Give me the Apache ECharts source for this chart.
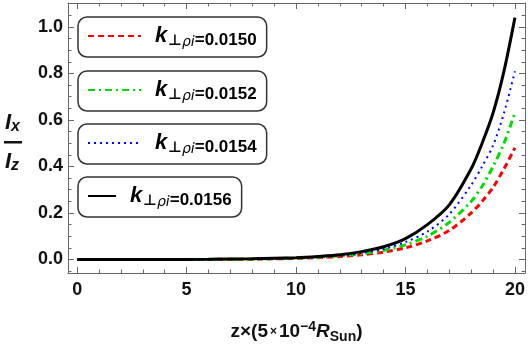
<!DOCTYPE html>
<html>
<head>
<meta charset="utf-8">
<script src="https://cdn.jsdelivr.net/npm/echarts@6/dist/echarts.min.js"></script>
<style>
  html, body { margin: 0; padding: 0; background: #fff; }
  #chart { width: 528px; height: 349px; }
</style>
</head>
<body>
<div id="chart"></div>
<script>
// z positions (units of 5e-4 R_Sun)
const zValues = [0, 2, 4, 6, 8, 10, 11, 12, 13, 14, 15, 16, 17, 18, 18.5, 19, 19.5, 20];
// Ix/Iz, one array per k_perp rho_i
const ratio0150 = [0, 0.0001, 0.0002, 0.0005, 0.0015, 0.005, 0.008, 0.013, 0.02, 0.032, 0.05, 0.08, 0.125, 0.20, 0.25, 0.31, 0.39, 0.48];
const ratio0152 = [0, 0.0001, 0.0003, 0.0006, 0.002, 0.006, 0.010, 0.016, 0.025, 0.04, 0.063, 0.10, 0.16, 0.25, 0.315, 0.40, 0.50, 0.63];
const ratio0154 = [0, 0.0001, 0.0003, 0.0007, 0.0025, 0.007, 0.011, 0.017, 0.028, 0.045, 0.075, 0.12, 0.195, 0.32, 0.40, 0.49, 0.63, 0.81];
const ratio0156 = [0, 0.0001, 0.0003, 0.0009, 0.003, 0.008, 0.013, 0.02, 0.034, 0.055, 0.09, 0.15, 0.235, 0.39, 0.50, 0.63, 0.81, 1.04];
const kLabels = ['0.0150', '0.0152', '0.0154', '0.0156'];
const xTickLabels = [0, 5, 10, 15, 20];
const yTickLabels = [0, 0.2, 0.4, 0.6, 0.8, 1.0];

const chart = echarts.init(document.getElementById('chart'));

const pairs = (ys) => zValues.map((z, i) => [z, ys[i]]);
const frameColor = '#666';
const sans = 'Liberation Sans, Arial, sans-serif';
const labelFont = { color: '#111', fontSize: 18, fontWeight: 'bold', fontFamily: sans };

// one boxed legend per curve, like the Mathematica legend
const legendRich = {
  k: { fontSize: 22, fontWeight: 'bold', fontStyle: 'italic', color: '#000', lineHeight: 26, padding: [0, 1, 0, 9], fontFamily: sans },
  p: { fontSize: 15, fontWeight: 'bold', color: '#000', verticalAlign: 'bottom', lineHeight: 17, fontFamily: 'DejaVu Sans, sans-serif' },
  s: { fontSize: 14, fontStyle: 'italic', color: '#000', verticalAlign: 'bottom', lineHeight: 16, fontFamily: 'DejaVu Sans, sans-serif' },
  v: { fontSize: 17, fontWeight: 'bold', color: '#000', verticalAlign: 'bottom', lineHeight: 21, fontFamily: sans }
};
const legendTops = [17, 71, 124, 177];
const legends = kLabels.map((k, i) => ({
  data: [k],
  left: 78,
  top: legendTops[i],
  itemWidth: i === 3 ? 28 : 53,
  itemHeight: 14,
  itemStyle: { opacity: 0 },
  padding: [8, 10, 8, 9],
  borderColor: '#333',
  borderWidth: 1.5,
  borderRadius: 9,
  selectedMode: false,
  formatter: (name) => '{k|k}{p|\u22a5}{s|\u03c1i}{v|=' + name + '}',
  textStyle: { rich: legendRich }
}));

const mkSeries = (name, ys, color, type, width) => ({
  name: name,
  type: 'line',
  data: pairs(ys),
  smooth: 0.3,
  symbol: 'none',
  xAxisIndex: 0,
  yAxisIndex: 0,
  lineStyle: { color: color, type: type, width: width },
  itemStyle: { color: color }
});

const xBase = {
  type: 'value',
  min: -0.42,
  max: 20.46,
  splitNumber: 4,
  splitLine: { show: false },
  axisLine: { show: true, onZero: false, lineStyle: { color: frameColor, width: 1 } },
  axisTick: { inside: true, length: 6, lineStyle: { color: frameColor } },
  minorTick: { show: true, splitNumber: 5, length: 3.5, lineStyle: { color: frameColor } }
};
const yBase = {
  type: 'value',
  min: -0.058,
  max: 1.103,
  splitNumber: 5,
  splitLine: { show: false },
  axisLine: { show: true, onZero: false, lineStyle: { color: frameColor, width: 1 } },
  axisTick: { inside: true, length: 6, lineStyle: { color: frameColor } },
  minorTick: { show: true, splitNumber: 4, length: 3.5, lineStyle: { color: frameColor } }
};

const sub = {
  i: { fontSize: 22, fontWeight: 'bold', fontStyle: 'italic', fill: '#111', fontFamily: sans, lineHeight: 24 },
  s: { fontSize: 16, fontWeight: 'bold', fontStyle: 'italic', fill: '#111', verticalAlign: 'bottom', lineHeight: 16, fontFamily: sans }
};

chart.setOption({
  animation: false,
  backgroundColor: '#fff',
  grid: { left: 68, right: 2, top: 3, bottom: 65 },
  legend: legends,
  xAxis: [
    Object.assign({}, xBase, {
      position: 'bottom',
      axisLabel: Object.assign({}, labelFont, {
        margin: 8,
        formatter: (v) => (xTickLabels.indexOf(v) >= 0 ? String(v) : '')
      }),
      name: '{b|z\u00d7(5}{m|\u00d7}{b|10}{sup|\u22124}{r|R}{sub|Sun}{b|)}',
      nameLocation: 'middle',
      nameGap: 47,
      nameTextStyle: {
        rich: {
          b: { fontSize: 19, fontWeight: 'bold', color: '#111', fontFamily: sans, lineHeight: 24 },
          m: { fontSize: 12, fontWeight: 'bold', color: '#111', fontFamily: sans, padding: [0, 2, 0, 2] },
          sup: { fontSize: 14, fontWeight: 'bold', color: '#111', verticalAlign: 'top', lineHeight: 14, fontFamily: sans },
          r: { fontSize: 19, fontWeight: 'bold', fontStyle: 'italic', color: '#111', fontFamily: sans },
          sub: { fontSize: 14, fontWeight: 'bold', color: '#111', verticalAlign: 'bottom', lineHeight: 16, fontFamily: sans }
        }
      }
    }),
    Object.assign({}, xBase, { position: 'top', axisLabel: { show: false } })
  ],
  yAxis: [
    Object.assign({}, yBase, {
      position: 'left',
      axisLabel: Object.assign({}, labelFont, {
        margin: 5,
        formatter: (v) => {
          const hit = yTickLabels.some((t) => Math.abs(t - v) < 1e-6);
          return hit ? v.toFixed(1) : '';
        }
      })
    }),
    Object.assign({}, yBase, { position: 'right', axisLabel: { show: false } })
  ],
  graphic: [
    { type: 'text', left: 5, top: 112, style: { text: '{i|I}{s|x}', rich: sub } },
    { type: 'rect', left: 4, top: 141, shape: { width: 18, height: 2.5 }, style: { fill: '#111' } },
    { type: 'text', left: 5, top: 151, style: { text: '{i|I}{s|z}', rich: sub } }
  ],
  series: [
    mkSeries(kLabels[0], ratio0150, '#ff0000', [6, 4], 3),
    mkSeries(kLabels[1], ratio0152, '#00dd00', [7, 4, 2, 4], 3),
    mkSeries(kLabels[2], ratio0154, '#0000ff', [2, 4], 2),
    mkSeries(kLabels[3], ratio0156, '#000000', 'solid', 3)
  ]
});
</script>
</body>
</html>
